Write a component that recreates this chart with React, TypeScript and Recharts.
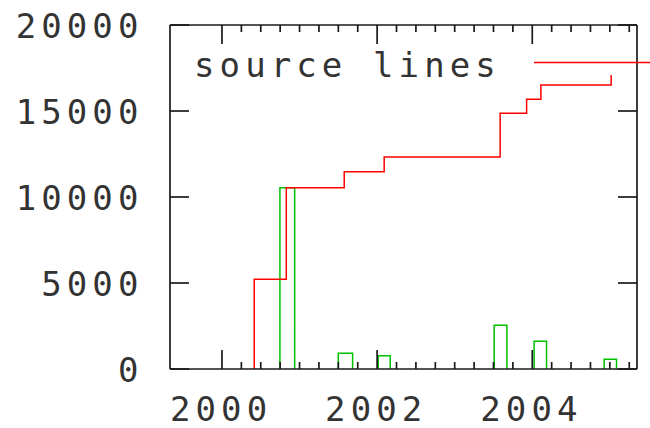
import React from 'react';
import { ComposedChart, Line, XAxis, YAxis, Legend } from 'recharts';

const seriesName = 'source lines';
const stepDates = [2000.416, 2000.416, 2000.829, 2001.576, 2002.091, 2003.586, 2003.927, 2004.111, 2005.017];
const stepTotals = [0, 5215, 10540, 11470, 12325, 14865, 15680, 16510, 17090];

const boxStart = [2000.747, 2001.499, 2002.014, 2003.509, 2004.024, 2004.927];
const boxEnd = [2000.937, 2001.684, 2002.169, 2003.673, 2004.184, 2005.086];
const boxHeight = [10540, 913, 773, 2540, 1610, 564];

const yTicks = [0, 5000, 10000, 15000, 20000];
const xLabelYears = [2000, 2002, 2004];
const xTicks = [
  2000, 2000.25, 2000.5, 2000.75, 2001, 2001.25, 2001.5, 2001.75,
  2002, 2002.25, 2002.5, 2002.75, 2003, 2003.25, 2003.5, 2003.75,
  2004, 2004.25, 2004.5, 2004.75, 2005, 2005.25,
];

const RED = '#ff0000';
const GREEN = '#00c000';
const INK = '#1a1a1a';
const TXT = '#333';
const FONT = '"DejaVu Sans Mono", monospace';
const FS = 34;
const LS = 5.1;

const redData = stepDates.map((x, i) => ({ x, y: stepTotals[i] }));
const greenData: { x: number; y: number | null }[] = [];
boxStart.forEach((s, i) => {
  greenData.push({ x: s, y: 0 });
  greenData.push({ x: s, y: boxHeight[i] });
  greenData.push({ x: boxEnd[i], y: boxHeight[i] });
  greenData.push({ x: boxEnd[i], y: 0 });
  greenData.push({ x: boxEnd[i], y: null });
});

const XTick = (props: any) => {
  const { x, y, payload, top } = props;
  const major = xLabelYears.includes(payload.value);
  const len = major ? 19 : 7;
  const dir = top ? 1 : -1;
  return (
    <g>
      <line x1={x} x2={x} y1={y} y2={y + dir * len} stroke={INK} strokeWidth={1.7} />
      {!top && major && (
        <text x={x - 52} y={y + 52} fontFamily={FONT} fontSize={FS} letterSpacing={LS} fill={TXT} textAnchor="start">
          {String(payload.value)}
        </text>
      )}
    </g>
  );
};

const YTick = (props: any) => {
  const { x, y, payload, right } = props;
  const dir = right ? -1 : 1;
  return (
    <g>
      <line x1={x} x2={x + dir * 19} y1={y} y2={y} stroke={INK} strokeWidth={1.7} />
      {!right && (
        <text x={x - 26.5} y={y + 12.5} fontFamily={FONT} fontSize={FS} letterSpacing={LS} fill={TXT} textAnchor="end">
          {String(payload.value)}
        </text>
      )}
    </g>
  );
};

const LegendContent = (props: any) => {
  const items = (props.payload || []).filter((p: any) => p.value === seriesName);
  return (
    <svg width={650} height={100} style={{ display: 'block' }}>
      {items.map((p: any) => (
        <g key={p.value}>
          <text x={194} y={76.5} fontFamily={FONT} fontSize={FS} letterSpacing={LS} fill={TXT}>
            {p.value}
          </text>
          <line x1={534} x2={650} y1={62.5} y2={62.5} stroke={p.color} strokeWidth={1.5} />
        </g>
      ))}
    </svg>
  );
};

export default function App() {
  const xDomain = [1999.33, 2005.35];
  return (
    <div style={{ position: 'absolute', left: 0, top: 0, width: 650, height: 428, background: '#fff' }}>
      <ComposedChart width={650} height={428} margin={{ top: 24, right: 12, bottom: 0, left: 10 }}>
        <XAxis
          xAxisId="b"
          type="number"
          dataKey="x"
          domain={xDomain}
          allowDataOverflow
          ticks={xTicks}
          interval={0}
          height={59}
          tickSize={0}
          tickMargin={0}
          tickLine={false}
          axisLine={{ stroke: INK, strokeWidth: 1.7 }}
          tick={(p: any) => <XTick {...p} />}
        />
        <XAxis
          xAxisId="t"
          orientation="top"
          type="number"
          dataKey="x"
          domain={xDomain}
          allowDataOverflow
          ticks={xTicks}
          interval={0}
          height={1}
          tickSize={0}
          tickMargin={0}
          tickLine={false}
          axisLine={{ stroke: INK, strokeWidth: 1.7 }}
          tick={(p: any) => <XTick {...p} top />}
        />
        <YAxis
          yAxisId="l"
          type="number"
          domain={[0, 20000]}
          allowDataOverflow
          ticks={yTicks}
          interval={0}
          width={160}
          tickSize={0}
          tickMargin={0}
          tickLine={false}
          axisLine={{ stroke: INK, strokeWidth: 1.7 }}
          tick={(p: any) => <YTick {...p} />}
        />
        <YAxis
          yAxisId="r"
          orientation="right"
          type="number"
          domain={[0, 20000]}
          allowDataOverflow
          ticks={yTicks}
          interval={0}
          width={1}
          tickSize={0}
          tickMargin={0}
          tickLine={false}
          axisLine={{ stroke: INK, strokeWidth: 1.7 }}
          tick={(p: any) => <YTick {...p} right />}
        />
        <Line
          xAxisId="t"
          yAxisId="r"
          data={redData}
          dataKey="y"
          type="stepAfter"
          stroke="none"
          strokeWidth={0}
          dot={false}
          activeDot={false}
          legendType="none"
          name="mirror"
          isAnimationActive={false}
        />
        <Line
          xAxisId="b"
          yAxisId="l"
          data={greenData}
          dataKey="y"
          type="linear"
          stroke={GREEN}
          strokeWidth={1.5}
          dot={false}
          activeDot={false}
          connectNulls={false}
          legendType="none"
          name="boxes"
          isAnimationActive={false}
        />
        <Line
          xAxisId="b"
          yAxisId="l"
          data={redData}
          dataKey="y"
          type="stepAfter"
          stroke={RED}
          strokeWidth={1.5}
          dot={false}
          activeDot={false}
          name={seriesName}
          isAnimationActive={false}
        />
        <Legend
          layout="horizontal"
          align="center"
          verticalAlign="middle"
          content={(p: any) => <LegendContent {...p} />}
          wrapperStyle={{ position: 'absolute', left: 0, top: 0, width: 650, height: 100, pointerEvents: 'none' }}
        />
      </ComposedChart>
    </div>
  );
}
